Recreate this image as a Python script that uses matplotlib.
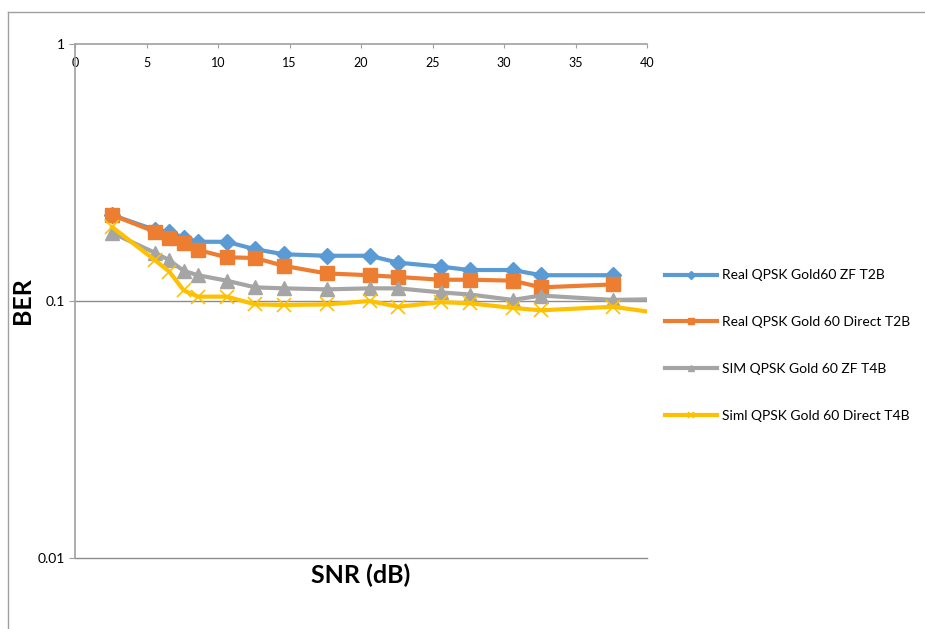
import matplotlib.pyplot as plt
from matplotlib.lines import Line2D
from matplotlib.ticker import FixedLocator, NullLocator

plt.rcParams['font.family'] = ['Lato', 'DejaVu Sans']

# SNR points (dB)
snr = [2.6, 5.6, 6.6, 7.6, 8.6, 10.6, 12.6, 14.6, 17.6, 20.6,
       22.6, 25.6, 27.6, 30.6, 32.6, 37.6]
snr_sim = snr + [42.6]

real_zf = [0.216, 0.189, 0.186, 0.176, 0.170, 0.170, 0.159, 0.152, 0.150, 0.150,
           0.141, 0.136, 0.132, 0.132, 0.126, 0.126]
real_direct = [0.216, 0.186, 0.176, 0.168, 0.158, 0.148, 0.147, 0.137, 0.128, 0.126,
               0.124, 0.121, 0.121, 0.120, 0.113, 0.116]
sim_zf = [0.184, 0.154, 0.144, 0.131, 0.126, 0.120, 0.113, 0.112, 0.111, 0.112,
          0.112, 0.108, 0.106, 0.101, 0.105, 0.101, 0.102]
sim_direct = [0.194, 0.144, 0.130, 0.110, 0.104, 0.104, 0.097, 0.0965, 0.097, 0.100,
              0.095, 0.099, 0.098, 0.094, 0.092, 0.095, 0.087]

labels = ['Real QPSK Gold60 ZF T2B', 'Real QPSK Gold 60 Direct T2B',
          'SIM QPSK Gold 60 ZF T4B', 'Siml QPSK Gold 60 Direct T4B']
colors = ['#5B9BD5', '#ED7D31', '#A5A5A5', '#FFC000']

fig = plt.figure(figsize=(9.25, 6.29), dpi=100)
ax = fig.add_axes([0.0811, 0.1129, 0.6184, 0.8171])

ax.plot(snr, real_zf, color=colors[0], lw=3, marker='D', ms=8, label=labels[0])
ax.plot(snr, real_direct, color=colors[1], lw=3, marker='s', ms=10, label=labels[1])
ax.plot(snr_sim, sim_zf, color=colors[2], lw=3, marker='^', ms=10, label=labels[2])
ax.plot(snr_sim, sim_direct, color=colors[3], lw=3, marker='x', ms=10, mew=1.2,
        label=labels[3])

ax.set_yscale('log')
ax.set_xlim(0, 40)
ax.set_ylim(0.01, 1)
ax.yaxis.set_major_locator(FixedLocator([0.01, 0.1, 1]))
ax.yaxis.set_minor_locator(NullLocator())
ax.set_yticklabels(['0.01', '0.1', '1'])
ax.set_xticks(range(0, 41, 5))

for s in ['right', 'bottom']:
    ax.spines[s].set_visible(False)
for s in ['top', 'left']:
    ax.spines[s].set_color('#A0A0A0')
    ax.spines[s].set_linewidth(1.2)

ax.axhline(0.1, color='#8C8C8C', lw=1, zorder=0)
ax.axhline(0.01, color='#8C8C8C', lw=1, zorder=0, clip_on=False)

ax.tick_params(axis='x', top=True, bottom=False, labeltop=True, labelbottom=False,
               direction='in', length=3, color='#A0A0A0', pad=-18, labelsize=9)
ax.tick_params(axis='y', direction='out', length=4, color='#A0A0A0', labelsize=10)

ax.set_ylabel('BER', fontsize=18, fontweight='bold', labelpad=2)
ax.set_xlabel('SNR (dB)', fontsize=18, fontweight='bold', labelpad=4)

fig.legend(loc='center left', bbox_to_anchor=(0.711, 0.4507), frameon=False,
           borderpad=0, handlelength=3.8, handletextpad=0.35, labelspacing=2.5,
           markerscale=0.5, fontsize=10)

# chart area border
fig.add_artist(Line2D([0.0087, 0.0087], [0, 0.981], color='#A0A0A0', lw=1))
fig.add_artist(Line2D([0.0087, 1], [0.981, 0.981], color='#A0A0A0', lw=1))

fig.savefig('out.png', dpi=100)
